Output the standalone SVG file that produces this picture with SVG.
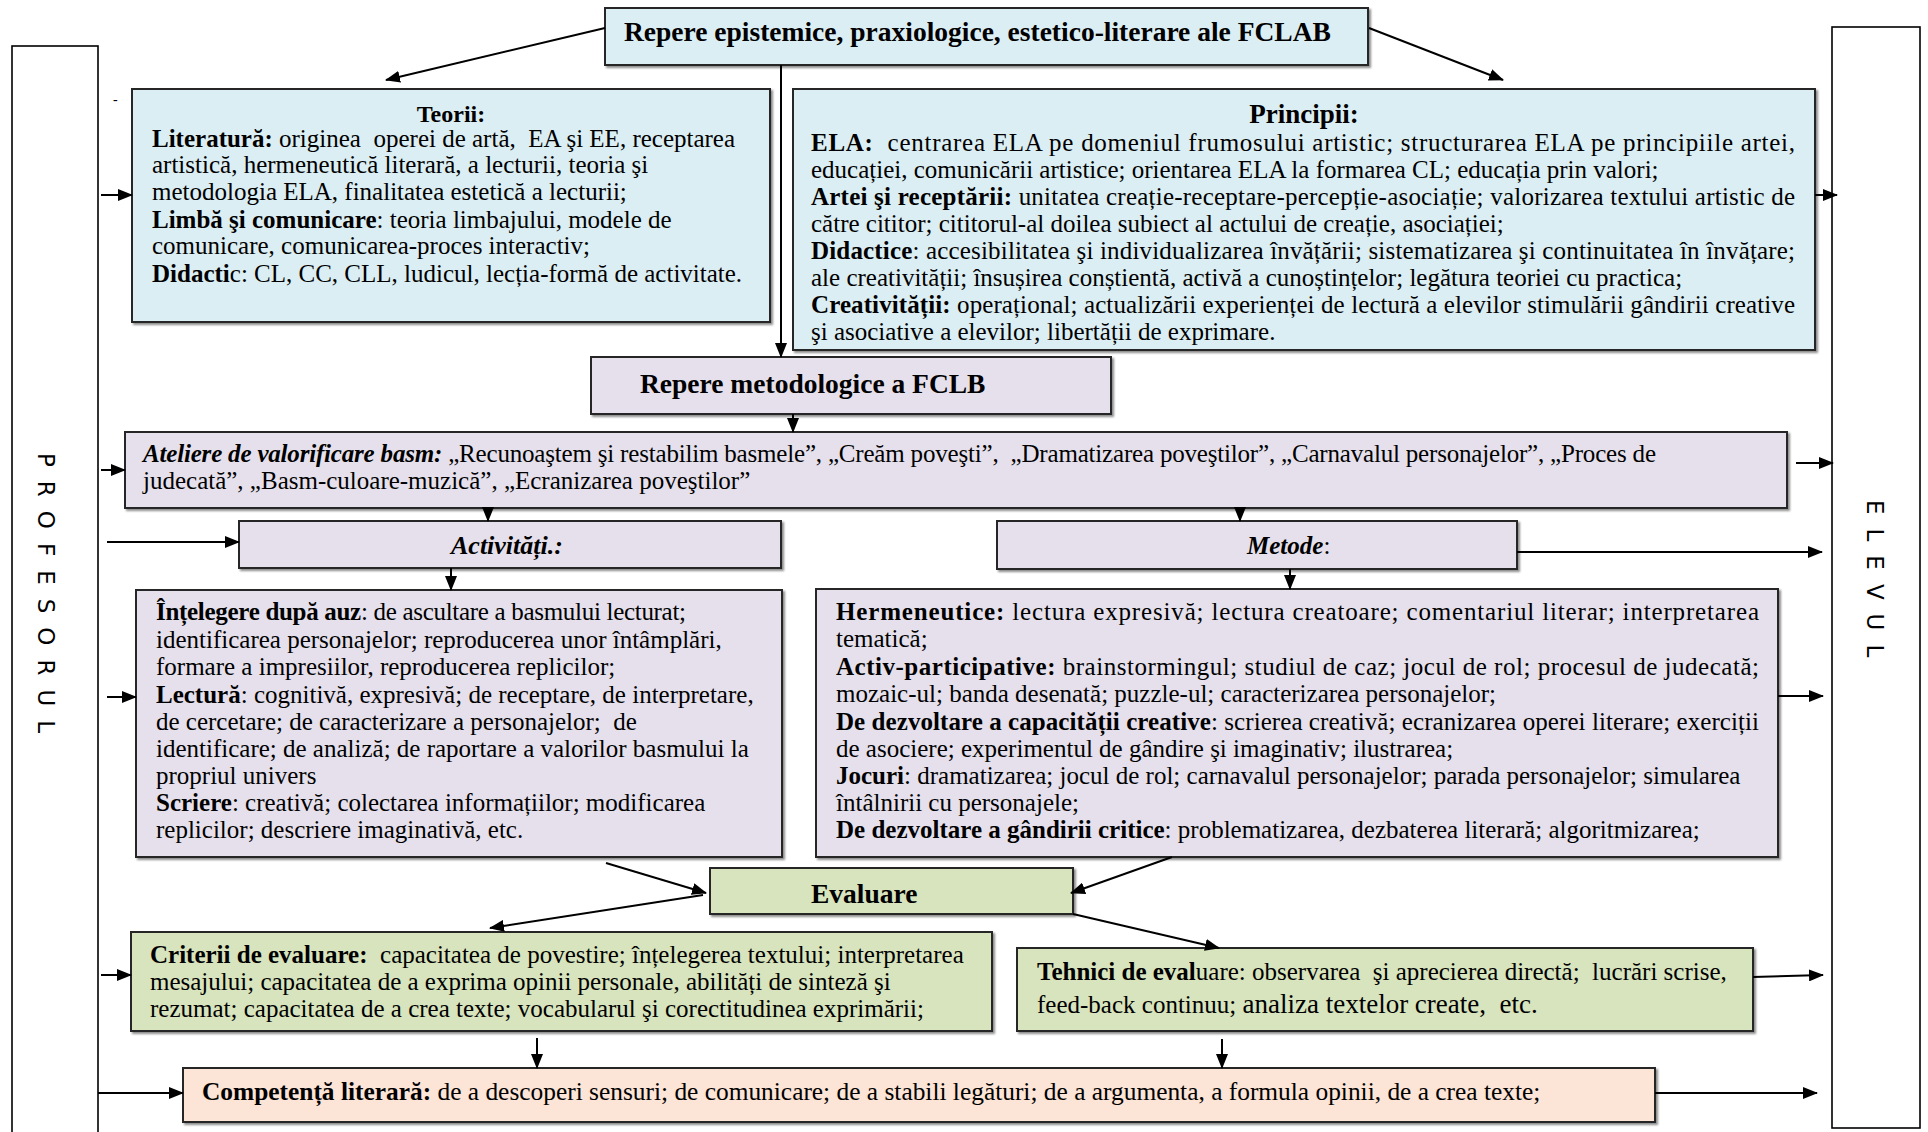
<svg xmlns="http://www.w3.org/2000/svg" width="1928" height="1132" viewBox="0 0 1928 1132">
<defs>
<style>
.t{font-family:"Liberation Serif","Times New Roman",serif;font-size:25px;fill:#000;white-space:pre}
.b{font-weight:bold}
.i{font-style:italic}
.h{font-size:27.5px;font-weight:bold}
.v{font-family:"DejaVu Sans",sans-serif;font-size:23px;letter-spacing:14px;fill:#000}
.box{stroke:#262626;stroke-width:2;filter:url(#sh)}
.side{fill:#fff;stroke:#000;stroke-width:1.6}
.blue{fill:#DBEEF3}
.lav{fill:#E5E0EC}
.grn{fill:#D7E4BD}
.pch{fill:#FCE4D6}
.c{stroke:#000;stroke-width:2;fill:none;marker-end:url(#ah)}
</style>
<filter id="sh" x="-5%" y="-5%" width="110%" height="120%"><feDropShadow dx="2" dy="2" stdDeviation="0.8" flood-color="#000" flood-opacity="0.45"/></filter>
<marker id="ah" markerUnits="userSpaceOnUse" markerWidth="15" markerHeight="12" refX="14" refY="6" orient="auto"><path d="M0,0 L15,6 L0,12 z" fill="#000"/></marker>
</defs>
<rect width="1928" height="1132" fill="#fff"/>

<g id="profesorul">
<rect class="side" x="12" y="46" width="86" height="1100"/>
<text class="v" transform="translate(38 453) rotate(90)">PROFESORUL</text>
</g>
<g id="elevul">
<rect class="side" x="1832" y="27" width="88" height="1101"/>
<text class="v" transform="translate(1867 500) rotate(90)">ELEVUL</text>
</g>

<g id="repere-epistemice">
<rect class="box blue" x="605" y="8" width="763" height="57"/>
<text class="t h" x="624" y="41">Repere epistemice, praxiologice, estetico-literare ale FCLAB</text>
</g>

<g id="teorii">
<rect class="box blue" x="132" y="89" width="638" height="233"/>
<text class="t b" style="font-size:24px" x="451" y="122" text-anchor="middle">Teorii:</text>
<text class="t" x="152" y="147"><tspan class="b">Literatură:</tspan> originea  operei de artă,  EA şi EE, receptarea</text>
<text class="t" x="152" y="173">artistică, hermeneutică literară, a lecturii, teoria şi</text>
<text class="t" x="152" y="200">metodologia ELA, finalitatea estetică a lecturii;</text>
<text class="t" x="152" y="228"><tspan class="b">Limbă şi comunicare</tspan>: teoria limbajului, modele de</text>
<text class="t" x="152" y="254">comunicare, comunicarea-proces interactiv;</text>
<text class="t" x="152" y="282"><tspan class="b">Didacti</tspan>c: CL, CC, CLL, ludicul, lecția-formă de activitate.</text>
</g>
<text class="t" x="113" y="104" style="font-size:14px">-</text>

<g id="principii">
<rect class="box blue" x="793" y="89" width="1022" height="261"/>
<text class="t b" style="font-size:27px" x="1304" y="123" text-anchor="middle">Principii:</text>
<text class="t" x="811" y="151" textLength="984"><tspan class="b">ELA:</tspan>  centrarea ELA pe domeniul frumosului artistic; structurarea ELA pe principiile artei,</text>
<text class="t" x="811" y="178">educației, comunicării artistice; orientarea ELA la formarea CL; educația prin valori;</text>
<text class="t" x="811" y="205" textLength="984"><tspan class="b">Artei şi receptării:</tspan> unitatea creație-receptare-percepție-asociație; valorizarea textului artistic de</text>
<text class="t" x="811" y="232">către cititor; cititorul-al doilea subiect al actului de creație, asociației;</text>
<text class="t" x="811" y="259" textLength="984"><tspan class="b">Didactice</tspan>: accesibilitatea şi individualizarea învățării; sistematizarea şi continuitatea în învățare;</text>
<text class="t" x="811" y="286">ale creativității; însușirea conștientă, activă a cunoștințelor; legătura teoriei cu practica;</text>
<text class="t" x="811" y="313" textLength="984"><tspan class="b">Creativității:</tspan> operațional; actualizării experienței de lectură a elevilor stimulării gândirii creative</text>
<text class="t" x="811" y="340">şi asociative a elevilor; libertății de exprimare.</text>
</g>

<g id="repere-metodologice">
<rect class="box lav" x="591" y="357" width="520" height="57"/>
<text class="t h" x="640" y="393">Repere metodologice a FCLB</text>
</g>

<g id="ateliere">
<rect class="box lav" x="125" y="432" width="1662" height="76"/>
<text class="t" x="143" y="462" textLength="1513"><tspan class="b i">Ateliere de valorificare basm:</tspan> „Recunoaştem şi restabilim basmele”, „Creăm poveşti”,  „Dramatizarea poveştilor”, „Carnavalul personajelor”, „Proces de</text>
<text class="t" x="143" y="489">judecată”, „Basm-culoare-muzică”, „Ecranizarea poveştilor”</text>
</g>

<g id="activitati">
<rect class="box lav" x="239" y="521" width="542" height="47"/>
<text class="t b i" style="font-size:26px" x="451" y="554">Activități.:</text>
</g>

<g id="metode">
<rect class="box lav" x="997" y="521" width="520" height="48"/>
<text class="t" x="1247" y="554"><tspan class="b i">Metode</tspan>:</text>
</g>

<g id="activitati-continut">
<rect class="box lav" x="136" y="590" width="646" height="267"/>
<text class="t" x="156" y="620" textLength="530"><tspan class="b">Înțelegere după auz</tspan>: de ascultare a basmului lecturat;</text>
<text class="t" x="156" y="648">identificarea personajelor; reproducerea unor întâmplări,</text>
<text class="t" x="156" y="675">formare a impresiilor, reproducerea replicilor;</text>
<text class="t" x="156" y="703"><tspan class="b">Lectură</tspan>: cognitivă, expresivă; de receptare, de interpretare,</text>
<text class="t" x="156" y="730">de cercetare; de caracterizare a personajelor;  de</text>
<text class="t" x="156" y="757">identificare; de analiză; de raportare a valorilor basmului la</text>
<text class="t" x="156" y="784">propriul univers</text>
<text class="t" x="156" y="811"><tspan class="b">Scriere</tspan>: creativă; colectarea informațiilor; modificarea</text>
<text class="t" x="156" y="838">replicilor; descriere imaginativă, etc.</text>
</g>

<g id="metode-continut">
<rect class="box lav" x="816" y="589" width="962" height="268"/>
<text class="t" x="836" y="620" textLength="923"><tspan class="b">Hermeneutice:</tspan> lectura expresivă; lectura creatoare; comentariul literar; interpretarea</text>
<text class="t" x="836" y="647">tematică;</text>
<text class="t" x="836" y="675" textLength="923"><tspan class="b">Activ-participative:</tspan> brainstormingul; studiul de caz; jocul de rol; procesul de judecată;</text>
<text class="t" x="836" y="702">mozaic-ul; banda desenată; puzzle-ul; caracterizarea personajelor;</text>
<text class="t" x="836" y="730" textLength="923"><tspan class="b">De dezvoltare a capacității creative</tspan>: scrierea creativă; ecranizarea operei literare; exerciții</text>
<text class="t" x="836" y="757">de asociere; experimentul de gândire şi imaginativ; ilustrarea;</text>
<text class="t" x="836" y="784"><tspan class="b">Jocuri</tspan>: dramatizarea; jocul de rol; carnavalul personajelor; parada personajelor; simularea</text>
<text class="t" x="836" y="811">întâlnirii cu personajele;</text>
<text class="t" x="836" y="838"><tspan class="b">De dezvoltare a gândirii critice</tspan>: problematizarea, dezbaterea literară; algoritmizarea;</text>
</g>

<g id="evaluare">
<rect class="box grn" x="710" y="868" width="363" height="46"/>
<text class="t h" x="811" y="903">Evaluare</text>
</g>

<g id="criterii">
<rect class="box grn" x="131" y="932" width="861" height="99"/>
<text class="t" x="150" y="963"><tspan class="b">Criterii de evaluare:</tspan>  capacitatea de povestire; înțelegerea textului; interpretarea</text>
<text class="t" x="150" y="990">mesajului; capacitatea de a exprima opinii personale, abilități de sinteză şi</text>
<text class="t" x="150" y="1017">rezumat; capacitatea de a crea texte; vocabularul şi corectitudinea exprimării;</text>
</g>

<g id="tehnici">
<rect class="box grn" x="1017" y="948" width="736" height="83"/>
<text class="t" x="1037" y="980"><tspan class="b">Tehnici de eval</tspan>uare: observarea  şi aprecierea directă;  lucrări scrise,</text>
<text class="t" x="1037" y="1013">feed-back continuu; <tspan style="font-size:27px">analiza textelor create,  etc.</tspan></text>
</g>

<g id="competenta">
<rect class="box pch" x="183" y="1068" width="1472" height="54"/>
<text class="t" style="font-size:25.4px" x="202" y="1100"><tspan class="b">Competență literară:</tspan> de a descoperi sensuri; de comunicare; de a stabili legături; de a argumenta, a formula opinii, de a crea texte;</text>
</g>

<g id="connectors">
<path class="c" d="M605,28 L386,80"/>
<path class="c" d="M1369,28 L1503,80"/>
<path class="c" d="M781,65 L781,357"/>
<path class="c" d="M101,195 L132,195"/>
<path class="c" d="M1815,195 L1837,195"/>
<path class="c" d="M793,414 L793,432"/>
<path class="c" d="M101,470 L125,470"/>
<path class="c" d="M1796,463 L1833,463"/>
<path class="c" d="M488,508 L488,521"/>
<path class="c" d="M1240,508 L1240,521"/>
<path class="c" d="M107,542 L239,542"/>
<path class="c" d="M1517,552 L1822,552"/>
<path class="c" d="M451,568 L451,590"/>
<path class="c" d="M1290,569 L1290,589"/>
<path class="c" d="M107,697 L136,697"/>
<path class="c" d="M1778,696 L1823,696"/>
<path class="c" d="M606,863 L706,893"/>
<path class="c" d="M1172,857 L1071,893"/>
<path class="c" d="M703,895 L490,928"/>
<path class="c" d="M1073,914 L1219,948"/>
<path class="c" d="M101,975 L131,975"/>
<path class="c" d="M1753,977 L1823,975"/>
<path class="c" d="M537,1038 L537,1068"/>
<path class="c" d="M1222,1039 L1222,1068"/>
<path class="c" d="M98,1093 L183,1093"/>
<path class="c" d="M1655,1093 L1817,1093"/>
</g>
</svg>
